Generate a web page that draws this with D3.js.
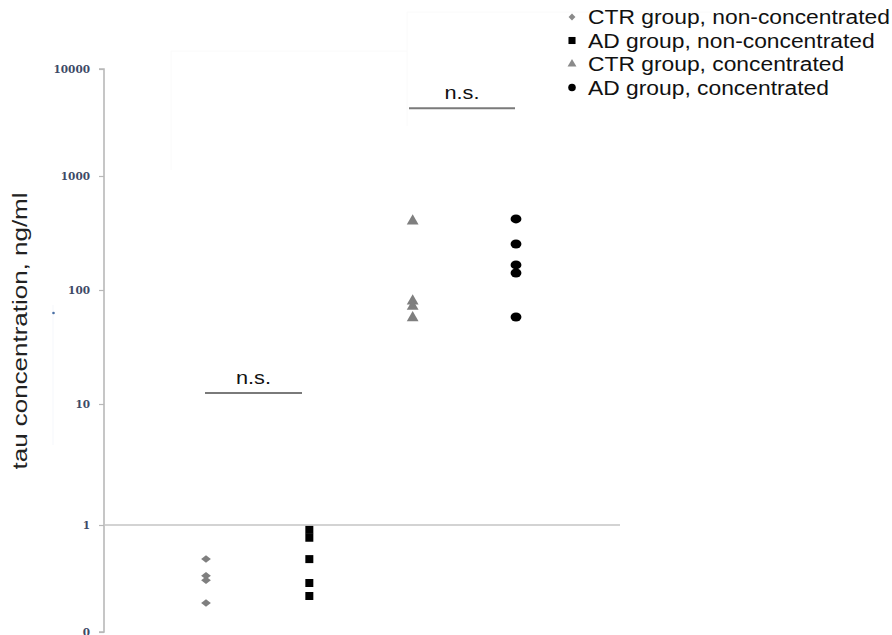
<!DOCTYPE html>
<html><head><meta charset="utf-8">
<script src="https://cdn.jsdelivr.net/npm/d3@7/dist/d3.min.js"></script>
<style>body{margin:0;background:#fff}svg{display:block}</style>
</head><body><svg id="c" width="892" height="635"></svg>
<script>
// ---- data ----
const tickValues = [0.1, 1, 10, 100, 1000, 10000];
const tickLabels = ["0", "1", "10", "100", "1000", "10000"];
const groups = ["CTR non-conc", "AD non-conc", "CTR conc", "AD conc"];
const ctrNonConc = [0.48, 0.335, 0.305, 0.187];
const adNonConc = [0.90, 0.76, 0.48, 0.287, 0.217];
const ctrConc = [403, 80, 72, 57];
const adConc = [420, 253, 166, 141, 58];
const legendLabels = ["CTR group, non-concentrated", "AD group, non-concentrated", "CTR group, concentrated", "AD group, concentrated"];
const sigLabels = ["n.s.", "n.s."];

const svg = d3.select("#c");
const font = "'Liberation Sans', Arial, sans-serif";

// piecewise log scale (source image decades are not evenly spaced)
const y = d3.scaleLog().domain(tickValues).range([632, 525, 404, 290, 176, 69]);
const x = d3.scalePoint().domain(groups).range([206, 516]);

// faint background artifacts
svg.append("path").attr("d", "M171,170V51H407").attr("fill", "none").attr("stroke", "#fafafa");
svg.append("path").attr("d", "M407,126V12H715").attr("fill", "none").attr("stroke", "#fafafa");
svg.append("line").attr("x1", 53).attr("x2", 53).attr("y1", 305).attr("y2", 445).attr("stroke", "#f5f7fb");
svg.append("circle").attr("cx", 53.5).attr("cy", 313).attr("r", 1.3).attr("fill", "#4a6fa5");

// y axis
const axis = d3.axisLeft(y).tickValues(tickValues).tickFormat((d, i) => tickLabels[i]).tickSize(5).tickPadding(9);
const ag = svg.append("g").attr("transform", "translate(104,0)").call(axis);
ag.select(".domain").attr("stroke", "#b8b8b8").attr("stroke-width", 1.6).attr("d", "M-5,69H0V632H-5");
ag.selectAll(".tick line").attr("stroke", "#b8b8b8").attr("stroke-width", 1.2);
ag.selectAll(".tick text").attr("font-family", "'DejaVu Serif', serif").attr("font-size", 10.5)
  .attr("font-weight", "bold").attr("fill", "#3d4a66");

// gridline at 1
svg.append("line").attr("x1", 104).attr("x2", 620).attr("y1", y(1)).attr("y2", y(1))
  .attr("stroke", "#c4c4c4").attr("stroke-width", 1.6);

// y title (source image is horizontally stretched text)
svg.append("text").attr("transform", `translate(27,331) rotate(-90)`).attr("text-anchor", "middle")
  .attr("font-family", font).attr("font-size", 20).attr("fill", "#222")
  .attr("textLength", 277).attr("lengthAdjust", "spacingAndGlyphs")
  .text("tau concentration, ng/ml");

// markers
const sym = {
  diamond: d3.symbol().type(d3.symbolDiamond2).size(50),
  square: d3.symbol().type(d3.symbolSquare).size(64),
  triangle: d3.symbol().type(d3.symbolTriangle).size(60),
  circle: d3.symbol().type(d3.symbolCircle).size(70)
};
const series = [
  {vals: ctrNonConc, g: groups[0], s: "diamond", c: "#7f7f7f", sc: "scale(1.1,0.85)"},
  {vals: adNonConc, g: groups[1], s: "square", c: "#000", sc: ""},
  {vals: ctrConc, g: groups[2], s: "triangle", c: "#7f7f7f", sc: ""},
  {vals: adConc, g: groups[3], s: "circle", c: "#000", sc: "scale(1.15,0.95)"}
];
series.forEach(se => {
  svg.append("g").selectAll("path").data(se.vals).join("path")
    .attr("d", sym[se.s])
    .attr("transform", d => `translate(${x(se.g)},${y(d)}) ${se.sc}`)
    .attr("fill", se.c);
});

// significance bars
const sig = [
  {x1: 205, x2: 302, v: 12.5, label: sigLabels[0]},
  {x1: 409, x2: 515, v: 4300, label: sigLabels[1]}
];
sig.forEach(s => {
  svg.append("line").attr("x1", s.x1).attr("x2", s.x2).attr("y1", y(s.v)).attr("y2", y(s.v))
    .attr("stroke", "#7a7a7a").attr("stroke-width", 2);
  svg.append("text").attr("x", (s.x1 + s.x2) / 2).attr("y", y(s.v) - 9).attr("text-anchor", "middle")
    .attr("font-family", font).attr("font-size", 18).attr("fill", "#111")
    .attr("textLength", 35).attr("lengthAdjust", "spacingAndGlyphs").text(s.label);
});

// legend (stretched horizontally like the source)
const lg = svg.append("g");
const lsym = [
  {s: d3.symbol().type(d3.symbolDiamond2).size(30), c: "#8a8a8a"},
  {s: d3.symbol().type(d3.symbolSquare).size(50), c: "#000"},
  {s: d3.symbol().type(d3.symbolTriangle).size(34), c: "#8a8a8a"},
  {s: d3.symbol().type(d3.symbolCircle).size(45), c: "#000"}
];
const ltexts = [];
legendLabels.forEach((t, i) => {
  const cy = 17 + i * 23.5;
  lg.append("path").attr("d", lsym[i].s).attr("transform", `translate(572,${cy})`).attr("fill", lsym[i].c);
  ltexts.push(lg.append("text").attr("x", 0).attr("y", 0)
    .attr("transform", `translate(588,${cy + 7})`)
    .attr("font-family", font).attr("font-size", 19.5).attr("fill", "#111").text(t));
});
const w0 = ltexts[0].node().getComputedTextLength();
const k = 302 / w0;
ltexts.forEach((t, i) => t.attr("transform", `translate(588,${17 + i * 23.5 + 7}) scale(${k},1)`));
</script></body></html>
